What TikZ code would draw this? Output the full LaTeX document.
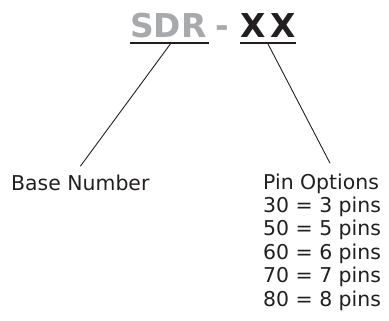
\documentclass[tikz,border=0pt]{standalone}
\usepackage{fontspec}
\setmainfont{DejaVu Sans}
\newfontfamily\hdrfont{DejaVu Sans}[UprightFont=*-Bold]
\definecolor{partgray}{RGB}{167,169,172}
\definecolor{partink}{RGB}{35,31,32}
\tikzset{
    hdr/.style={font=\hdrfont\fontsize{33}{33}\selectfont, inner sep=0pt, anchor=base west},
    lbl/.style={font=\fontsize{20.5}{23}\selectfont, text=partink, inner sep=0pt, anchor=base west},
    uline/.style={line width=1.5bp, partink},
    lead/.style={line width=0.9bp, partink}
}
\begin{document}
\begin{tikzpicture}[x=1bp, y=-1bp]
        \useasboundingbox (0,0) rectangle (389,321);
        % Part number (top)
        \node[hdr, text=partgray] (sdr) at (130,37) {SDR};
        \node[hdr, text=partgray] (dash) at (215,37) {-};
        \node[hdr, text=partink] (xx) at (240,37) {X\kern5bpX};
        \draw[uline] ([yshift=-6bp]sdr.base west) -- ([yshift=-6bp,xshift=2bp]sdr.base east);
        \draw[uline] ([yshift=-6bp]xx.base west) -- ([yshift=-6bp]xx.base east);
        % Labels (bottom)
        \node[lbl] (base) at (11,190) {Base Number};
        \node[lbl] (popt) at (263,189) {Pin Options};
        \foreach \i/\n in {1/3,2/5,3/6,4/7,5/8} {
            \node[lbl] (opt\n) at (263,189+23.4*\i) {\n0 = \n\ pins};
        }
        % Leader lines
        \draw[lead] ([xshift=2bp,yshift=-7bp]sdr.base) -- ([xshift=0bp,yshift=8bp]base.north);
        \draw[lead] ([yshift=-7bp]xx.base) -- ([xshift=9bp,yshift=10bp]popt.north);
    \end{tikzpicture}
\end{document}
